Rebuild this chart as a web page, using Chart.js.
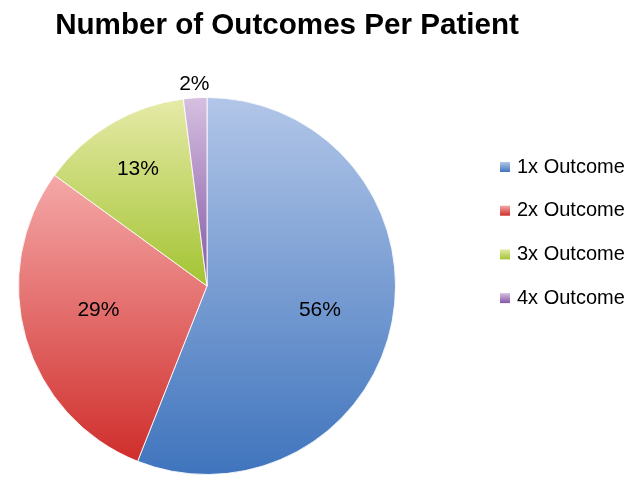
<!DOCTYPE html>
<html>
<head>
<meta charset="utf-8">
<script src="https://cdn.jsdelivr.net/npm/chart.js@4/dist/chart.umd.min.js"></script>
<style>
  html, body { margin: 0; padding: 0; background: #fff; }
  #wrap { width: 630px; height: 478px; position: relative; }
</style>
</head>
<body>
<div id="wrap"><canvas id="grafico"></canvas></div>
<script>
//DATOS//
const titulo = "Number of Outcomes Per Patient"
const categorias = ["1x Outcome", "2x Outcome", "3x Outcome", "4x Outcome"]
const valores = [56, 29, 13, 2]

// colores arriba / abajo de cada porcion (degradado vertical)
const colorArriba = ["#b2c6e8", "#f5a8a8", "#e6eaa8", "#d6c0e0"]
const colorAbajo = ["#3f74bd", "#cf2e2b", "#a3c432", "#8456a4"]

// distancia de cada etiqueta al centro (fraccion del radio) y ajuste vertical
const distEtiqueta = [0.61, 0.60, 0.72, 1.07]
const ajusteY = [3, -7, 0, 0]

const canvas = document.getElementById("grafico")

// calcula el rango vertical de la porcion i para hacer el degradado
function rangoY(i, cy, r) {
    const total = valores.reduce((a, b) => a + b, 0)
    let antes = 0
    for (let k = 0; k < i; k++) antes += valores[k]
    const a0 = -Math.PI / 2 + 2 * Math.PI * antes / total
    const a1 = a0 + 2 * Math.PI * valores[i] / total
    const ys = [cy, cy + r * Math.sin(a0), cy + r * Math.sin(a1)]
    // cruza abajo (pi/2) o arriba (-pi/2, 3pi/2)
    for (const t of [-Math.PI / 2, Math.PI / 2, 3 * Math.PI / 2]) {
        if (t >= a0 && t <= a1) ys.push(cy + r * Math.sin(t))
    }
    return [Math.min(...ys), Math.max(...ys)]
}

function degradado(context) {
    const chart = context.chart
    const area = chart.chartArea
    const i = context.dataIndex
    if (!area) return colorAbajo[i]
    const cy = (area.top + area.bottom) / 2
    const r = Math.min(area.right - area.left, area.bottom - area.top) / 2
    const [y0, y1] = rangoY(i, cy, r)
    const g = chart.ctx.createLinearGradient(0, y0, 0, y1)
    g.addColorStop(0, colorArriba[i])
    g.addColorStop(1, colorAbajo[i])
    return g
}

//PLUGIN: TITULO, ETIQUETAS Y LEYENDA//
const extras = {
    id: "extras",
    afterDatasetsDraw(chart) {
        const ctx = chart.ctx
        const meta = chart.getDatasetMeta(0)
        ctx.save()
        // etiquetas de porcentaje
        ctx.font = "21px 'Liberation Sans', Arial, sans-serif"
        ctx.fillStyle = "#000"
        ctx.textAlign = "center"
        ctx.textBaseline = "middle"
        meta.data.forEach((arc, i) => {
            const { x, y, startAngle, endAngle, outerRadius } = arc.getProps(["x", "y", "startAngle", "endAngle", "outerRadius"], true)
            const mid = (startAngle + endAngle) / 2
            const d = outerRadius * distEtiqueta[i]
            ctx.fillText(valores[i] + "%", x + Math.cos(mid) * d, y + Math.sin(mid) * d + ajusteY[i])
        })

        // titulo
        ctx.font = "bold 29.6px 'Liberation Sans', Arial, sans-serif"
        ctx.textBaseline = "alphabetic"
        ctx.fillText(titulo, 287, 34)

        // leyenda
        ctx.font = "20px 'Liberation Sans', Arial, sans-serif"
        ctx.textAlign = "left"
        ctx.textBaseline = "middle"
        categorias.forEach((c, i) => {
            const yc = 167 + i * 43.7
            const g = ctx.createLinearGradient(0, yc - 5, 0, yc + 5)
            g.addColorStop(0, colorArriba[i])
            g.addColorStop(1, colorAbajo[i])
            ctx.fillStyle = g
            ctx.fillRect(500, yc - 5, 10, 10)
            ctx.fillStyle = "#000"
            ctx.fillText(c, 517, yc)
        })
        ctx.restore()
    }
}

let chart = new Chart(canvas, {
    type: "pie",
    data: {
        labels: categorias,
        datasets: [{
            data: valores,
            backgroundColor: degradado,
            borderColor: "rgba(255,255,255,0.85)",
            borderWidth: 1,
        }],
    },
    options: {
        responsive: true,
        maintainAspectRatio: false,
        animation: false,
        layout: { padding: { left: 18, right: 234, top: 97, bottom: 3 } },
        plugins: {
            legend: { display: false },
            title: { display: false },
            tooltip: { enabled: false },
        },
    },
    plugins: [extras],
})
</script>
</body>
</html>
